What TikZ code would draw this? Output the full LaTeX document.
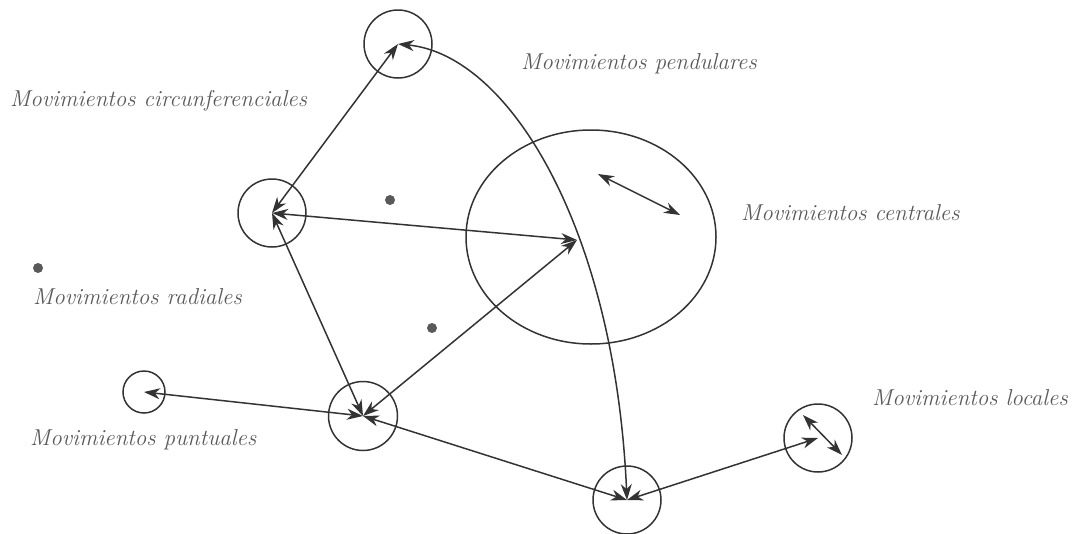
\documentclass[tikz,border=0pt]{standalone}
\usetikzlibrary{arrows.meta,shapes.geometric}
\begin{document}
\begin{tikzpicture}[x=1pt,y=-1pt,
  ring/.style={draw=black!80,line width=1.5pt,circle,inner sep=0pt,minimum size=#1},
  spot/.style={circle,fill=black!65,inner sep=0pt,minimum size=10pt},
  conn/.style={draw=black!80,line width=1.5pt,{Stealth[length=16pt,width=11pt,inset=5pt]}-{Stealth[length=16pt,width=11pt,inset=5pt]}},
  lbl/.style={anchor=west,inner sep=0pt,text=black!65,font=\fontsize{23}{26}\selectfont\itshape}]
\useasboundingbox (0,0) rectangle (1079,533);
% circles
\node[ring=68pt] (T) at (398,44) {};
\node[ring=68pt] (L) at (272,213) {};
\node[ring=69pt] (B1) at (363,416) {};
\node[ring=68pt] (B2) at (627,500) {};
\node[ring=68pt] (R) at (818,438) {};
\node[ring=42pt] (P) at (144,392) {};
\node[draw=black!80,line width=1.5pt,ellipse,inner sep=0pt,minimum width=250pt,minimum height=214pt] (E) at (591,237) {};
\coordinate (C) at (577,240);
% dots
\node[spot] (d1) at (390,200) {};
\node[spot] (d2) at (432,328) {};
\node[spot] (d3) at (38,268) {};
% connectors
\draw[conn] (L.center) -- (T.center);
\draw[conn] (L.center) -- (C);
\draw[conn] (L.center) -- (B1.center);
\draw[conn] (B1.center) -- (C);
\draw[conn] (P.center) -- (B1.center);
\draw[conn] (B1.center) -- (B2.center);
\draw[conn] (B2.center) -- (R.center);
\draw[conn] (T.center) .. controls (510,55) and (615,230) .. (B2.center);
\coordinate (ra) at (803,415);
\coordinate (rb) at (842,455);
\draw[conn] (ra) -- (rb);
\coordinate (ea) at (598,174);
\coordinate (eb) at (680,215);
\draw[conn] (ea) -- (eb);
% labels
\node[lbl] (t1) at (521,64) {Movimientos pendulares};
\node[lbl] (t2) at (10,101) {Movimientos circunferenciales};
\node[lbl] (t3) at (741,213) {Movimientos centrales};
\node[lbl] (t4) at (33,297) {Movimientos radiales};
\node[lbl] (t5) at (872,398) {Movimientos locales};
\node[lbl] (t6) at (30,440) {Movimientos puntuales};
\end{tikzpicture}
\end{document}
